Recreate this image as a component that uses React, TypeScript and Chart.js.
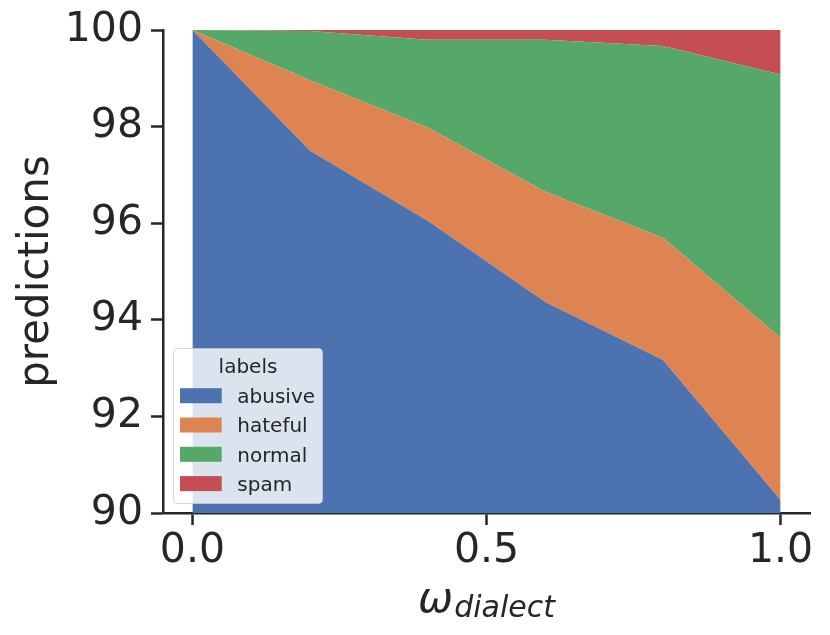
import { useEffect, useRef } from 'react';
import { Chart, registerables } from 'chart.js';

Chart.register(...registerables);

// omega_dialect sweep
const xValues = [0, 0.2, 0.4, 0.6, 0.8, 1.0];
const labelNames = ['abusive', 'hateful', 'normal', 'spam'];
const abusive = [100, 97.5, 96.05, 94.37, 93.17, 90.27];
const hateful = [0, 1.46, 1.93, 2.28, 2.53, 3.36];
const normal = [0, 1.02, 1.82, 3.15, 3.97, 5.45];
const spam = [0, 0.02, 0.2, 0.2, 0.33, 0.92];
const xTicks = [0, 0.5, 1.0];
const yTicks = [90, 92, 94, 96, 98, 100];

const colors = ['#4C72B0', '#DD8452', '#55A868', '#C44E52'];
const ink = '#262626';
const FONT = '"DejaVu Sans", sans-serif';

// legend drawn inside the plot, matplotlib style
const legendPlugin = {
  id: 'innerLegend',
  afterDraw(chart: any) {
    const { ctx } = chart;
    const x = 173.5, y = 348.5, w = 149, h = 155, r = 4;
    ctx.save();
    ctx.beginPath();
    ctx.roundRect(x, y, w, h, r);
    ctx.fillStyle = 'rgba(255,255,255,0.8)';
    ctx.fill();
    ctx.strokeStyle = 'rgba(204,204,204,0.8)';
    ctx.lineWidth = 1;
    ctx.stroke();

    ctx.fillStyle = ink;
    ctx.font = `20px ${FONT}`;
    ctx.textAlign = 'center';
    ctx.textBaseline = 'alphabetic';
    ctx.fillText('labels', x + w / 2, 373);

    ctx.textAlign = 'left';
    chart.data.datasets.forEach((ds: any, i: number) => {
      const cy = 395.7 + i * 29.3;
      ctx.fillStyle = ds.backgroundColor;
      ctx.fillRect(180, cy - 7.5, 41.7, 15);
      ctx.fillStyle = ink;
      ctx.fillText(ds.label, 237.3, cy + 7.3);
    });
    ctx.restore();
  },
};

// x label: omega with italic subscript
const xTitlePlugin = {
  id: 'xTitle',
  afterDraw(chart: any) {
    const { ctx, chartArea } = chart;
    const cx = chart.scales.x.getPixelForValue(0.5);
    ctx.save();
    ctx.fillStyle = ink;
    ctx.textBaseline = 'alphabetic';
    ctx.textAlign = 'left';
    ctx.font = `italic 42px ${FONT}`;
    const wOmega = ctx.measureText('ω').width;
    ctx.font = `italic 30px ${FONT}`;
    const wSub = ctx.measureText('dialect').width;
    const start = cx - (wOmega + 1 + wSub) / 2;
    ctx.font = `italic 42px ${FONT}`;
    ctx.fillText('ω', start, chartArea.bottom + 99);
    ctx.font = `italic 30px ${FONT}`;
    ctx.fillText('dialect', start + wOmega + 1, chartArea.bottom + 104);
    ctx.restore();
  },
};

export default function App() {
  const canvasRef = useRef<HTMLCanvasElement>(null);
  const chartRef = useRef<Chart | null>(null);

  useEffect(() => {
    if (!canvasRef.current) return;
    if (chartRef.current) chartRef.current.destroy();

    const series = [abusive, hateful, normal, spam];

    chartRef.current = new Chart(canvasRef.current, {
      type: 'line',
      data: {
        datasets: series.map((vals, i) => ({
          label: labelNames[i],
          data: xValues.map((x, j) => ({ x, y: vals[j] })),
          backgroundColor: colors[i],
          borderColor: colors[i],
          borderWidth: 0,
          pointRadius: 0,
          fill: i === 0 ? 'origin' : '-1',
          tension: 0,
        })),
      },
      options: {
        animation: false,
        responsive: true,
        maintainAspectRatio: false,
        layout: { padding: { top: 30, right: 20, left: 0, bottom: 0 } },
        plugins: {
          legend: { display: false },
          tooltip: { enabled: false },
        },
        scales: {
          x: {
            type: 'linear',
            min: -0.05,
            max: 1.05,
            afterBuildTicks: (s: any) => {
              s.ticks = xTicks.map((v) => ({ value: v }));
            },
            afterFit: (s: any) => {
              s.height = 122;
              s.paddingLeft = 0;
              s.paddingRight = 0;
            },
            grid: {
              drawOnChartArea: false,
              drawTicks: true,
              tickLength: 12,
              tickWidth: 2.5,
              tickColor: ink,
            },
            border: { display: true, color: ink, width: 2.5 },
            ticks: {
              color: ink,
              font: { family: FONT, size: 41 },
              padding: 2,
              maxRotation: 0,
              callback: (v: any) => Number(v).toFixed(1),
            },
          },
          y: {
            stacked: true,
            min: 90,
            max: 100,
            afterBuildTicks: (s: any) => {
              s.ticks = yTicks.map((v) => ({ value: v }));
            },
            afterFit: (s: any) => {
              s.width = 163;
              s.paddingTop = 0;
              s.paddingBottom = 0;
            },
            grid: {
              drawOnChartArea: false,
              drawTicks: true,
              tickLength: 12,
              tickWidth: 2.5,
              tickColor: ink,
            },
            border: { display: true, color: ink, width: 2.5 },
            ticks: {
              color: ink,
              font: { family: FONT, size: 41 },
              padding: 8,
            },
            title: {
              display: true,
              text: 'predictions',
              color: ink,
              font: { family: FONT, size: 42 },
              padding: { top: 12, bottom: 0 },
            },
          },
        },
      },
      plugins: [legendPlugin, xTitlePlugin],
    });

    return () => {
      if (chartRef.current) {
        chartRef.current.destroy();
        chartRef.current = null;
      }
    };
  }, []);

  return (
    <div style={{ position: 'absolute', left: 0, top: 0, width: 830, height: 635, background: '#fff' }}>
      <canvas ref={canvasRef}></canvas>
    </div>
  );
}
